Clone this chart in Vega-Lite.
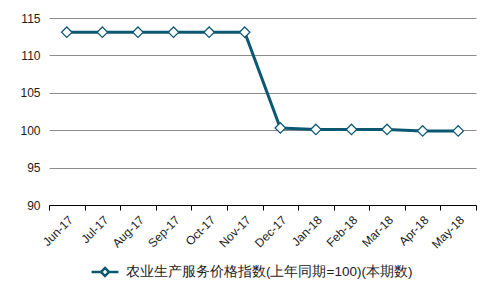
{
  "$schema": "https://vega.github.io/schema/vega-lite/v6.json",
  "width": 427,
  "height": 187,
  "autosize": {"type": "none"},
  "padding": {"left": 49, "top": 18, "right": 21, "bottom": 94},
  "background": "white",
  "config": {
    "view": {"stroke": null},
    "font": "Liberation Sans",
    "axis": {"labelFont": "Liberation Sans", "labelColor": "#222", "labelFontSize": 12}
  },
  "data": {
    "values": [
      {"month": "Jun-17", "value": 113.1, "series": "农业生产服务价格指数(上年同期=100)(本期数)"},
      {"month": "Jul-17", "value": 113.1, "series": "农业生产服务价格指数(上年同期=100)(本期数)"},
      {"month": "Aug-17", "value": 113.1, "series": "农业生产服务价格指数(上年同期=100)(本期数)"},
      {"month": "Sep-17", "value": 113.1, "series": "农业生产服务价格指数(上年同期=100)(本期数)"},
      {"month": "Oct-17", "value": 113.1, "series": "农业生产服务价格指数(上年同期=100)(本期数)"},
      {"month": "Nov-17", "value": 113.1, "series": "农业生产服务价格指数(上年同期=100)(本期数)"},
      {"month": "Dec-17", "value": 100.3, "series": "农业生产服务价格指数(上年同期=100)(本期数)"},
      {"month": "Jan-18", "value": 100.1, "series": "农业生产服务价格指数(上年同期=100)(本期数)"},
      {"month": "Feb-18", "value": 100.1, "series": "农业生产服务价格指数(上年同期=100)(本期数)"},
      {"month": "Mar-18", "value": 100.1, "series": "农业生产服务价格指数(上年同期=100)(本期数)"},
      {"month": "Apr-18", "value": 99.9, "series": "农业生产服务价格指数(上年同期=100)(本期数)"},
      {"month": "May-18", "value": 99.9, "series": "农业生产服务价格指数(上年同期=100)(本期数)"}
    ]
  },
  "encoding": {
    "x": {
      "field": "month", "type": "nominal", "sort": null,
      "scale": {"type": "band", "paddingInner": 0, "paddingOuter": 0},
      "axis": {
        "title": null, "labelAngle": -45, "labelAlign": "right", "labelBaseline": "top",
        "labelFontSize": 12, "labelPadding": 4, "labelDx": -3,
        "domainColor": "#000", "tickColor": "#000", "tickSize": 5, "tickBand": "extent",
        "grid": false
      }
    },
    "y": {
      "field": "value", "type": "quantitative",
      "scale": {"domain": [90, 115], "nice": false, "zero": false},
      "axis": {
        "title": null, "values": [90, 95, 100, 105, 110, 115], "domain": false, "ticks": false,
        "labelPadding": 9, "grid": true, "gridColor": "#8c8c8c", "gridWidth": 1
      }
    },
    "stroke": {
      "field": "series", "type": "nominal",
      "scale": {"range": ["#0b5872"]},
      "legend": {
        "title": null, "orient": "none", "legendX": 49, "legendY": 247, "direction": "horizontal",
        "labelFontSize": 13.5, "labelColor": "#222", "labelFont": "Liberation Sans", "labelLimit": 400,
        "symbolType": "M-2.5,0L-0.75,0M0.75,0L2.5,0M0,-0.75L0.75,0L0,0.75L-0.75,0Z",
        "symbolSize": 115, "symbolStrokeWidth": 2.5,
        "symbolFillColor": "white", "labelOffset": 14
      }
    }
  },
  "layer": [
    {"mark": {"type": "line", "strokeWidth": 3}},
    {"mark": {"type": "point", "shape": "diamond", "filled": true, "fill": "white", "strokeWidth": 1.2, "size": 110, "opacity": 1}}
  ]
}
